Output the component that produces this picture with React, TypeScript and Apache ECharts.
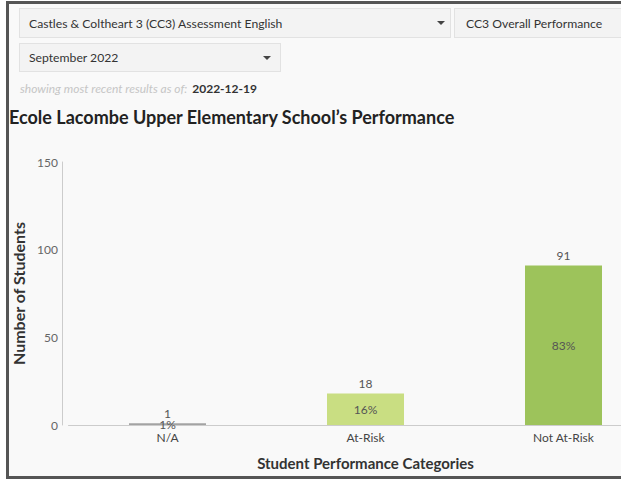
import React, { useEffect, useRef } from "react";
import * as echarts from "echarts";

const categories = ["N/A", "At-Risk", "Not At-Risk"];
const studentCounts = [1, 18, 91];
const percentages = [1, 16, 83];
const barColors = ["#a3a3a3", "#c9de82", "#9dc35b"];
const yTicks = { min: 0, max: 150, interval: 50 };

const FONT = "Lato, 'Noto Sans', sans-serif";

function Arrow({ left, top }: { left: number; top: number }) {
  return (
    <div
      style={{
        position: "absolute",
        left,
        top,
        width: 0,
        height: 0,
        borderLeft: "4px solid transparent",
        borderRight: "4px solid transparent",
        borderTop: "4px solid #444",
      }}
    />
  );
}

const boxStyle: React.CSSProperties = {
  position: "absolute",
  boxSizing: "border-box",
  background: "#f3f3f3",
  border: "1px solid #e2e2e2",
  color: "#333",
  fontSize: 12.2,
  fontFamily: FONT,
  display: "flex",
  alignItems: "center",
  whiteSpace: "nowrap",
  overflow: "hidden",
};

export default function App() {
  const ref = useRef<HTMLDivElement>(null);

  useEffect(() => {
    if (!ref.current) return;
    const chart = echarts.init(ref.current, undefined, { renderer: "svg" });
    chart.setOption({
      animation: false,
      textStyle: { fontFamily: FONT },
      grid: { left: 68.5, top: 162, width: 594, height: 263, containLabel: false },
      xAxis: {
        type: "category",
        data: categories,
        name: "Student Performance Categories",
        nameLocation: "middle",
        nameGap: 30,
        nameTextStyle: { fontSize: 15, fontWeight: "bold", color: "#333", fontFamily: FONT },
        axisLine: { lineStyle: { color: "#cccccc", width: 1 } },
        axisTick: { show: false },
        axisLabel: { color: "#444", fontSize: 12, margin: 6, fontFamily: FONT },
      },
      yAxis: {
        type: "value",
        min: yTicks.min,
        max: yTicks.max,
        interval: yTicks.interval,
        offset: 6.5,
        name: "Number of Students",
        nameLocation: "middle",
        nameGap: 34,
        nameTextStyle: { fontSize: 16, fontWeight: "bold", color: "#333", fontFamily: FONT },
        axisLine: { show: true, lineStyle: { color: "#cccccc", width: 1 } },
        axisTick: { show: false },
        splitLine: { show: false },
        axisLabel: { color: "#666", fontSize: 12, margin: 4, fontFamily: FONT },
      },
      series: [
        {
          type: "bar",
          barWidth: 77,
          data: studentCounts.map((v, i) => ({ value: v, itemStyle: { color: barColors[i] } })),
          label: {
            show: true,
            position: "top",
            distance: 4,
            color: "#555",
            fontSize: 12,
            fontFamily: FONT,
          },
        },
        {
          type: "bar",
          barWidth: 77,
          barGap: "-100%",
          silent: true,
          itemStyle: { color: "rgba(0,0,0,0)" },
          data: studentCounts,
          label: {
            show: true,
            position: "inside",
            color: "#555",
            fontSize: 12,
            fontFamily: FONT,
            formatter: (p: any) => percentages[p.dataIndex] + "%",
          },
        },
      ],
    });
    return () => chart.dispose();
  }, []);

  return (
    <div
      style={{
        position: "fixed",
        left: 0,
        top: 0,
        width: 621,
        height: 480,
        overflow: "hidden",
        background: "#ffffff",
        fontFamily: FONT,
      }}
    >
      <div
        style={{
          position: "absolute",
          left: 6,
          top: 1,
          width: 700,
          height: 478,
          boxSizing: "border-box",
          border: "3px solid #555",
          background: "#f9f9f9",
        }}
      />
      <div ref={ref} style={{ position: "absolute", left: 0, top: 0, width: 700, height: 480 }} />
      <div style={{ ...boxStyle, left: 19, top: 8, width: 432, height: 30, paddingLeft: 9 }}>
        Castles &amp; Coltheart 3 (CC3) Assessment English
      </div>
      <Arrow left={437} top={21} />
      <div style={{ ...boxStyle, left: 454, top: 8, width: 220, height: 30, paddingLeft: 11 }}>
        CC3 Overall Performance
      </div>
      <div style={{ ...boxStyle, left: 19, top: 43, width: 262, height: 29, paddingLeft: 9 }}>
        September 2022
      </div>
      <Arrow left={263} top={56} />
      <div
        style={{
          position: "absolute",
          left: 20,
          top: 81,
          fontSize: 12,
          whiteSpace: "nowrap",
          lineHeight: "16px",
        }}
      >
        <span style={{ fontStyle: "italic", color: "#c6c6c6" }}>showing most recent results as of:</span>
        <span style={{ fontWeight: "bold", color: "#333", marginLeft: 5 }}>2022-12-19</span>
      </div>
      <div
        style={{
          position: "absolute",
          left: 9,
          top: 105,
          fontSize: 18,
          fontWeight: "bold",
          color: "#222",
          whiteSpace: "nowrap",
          lineHeight: "24px",
        }}
      >
        Ecole Lacombe Upper Elementary School’s Performance
      </div>
    </div>
  );
}
